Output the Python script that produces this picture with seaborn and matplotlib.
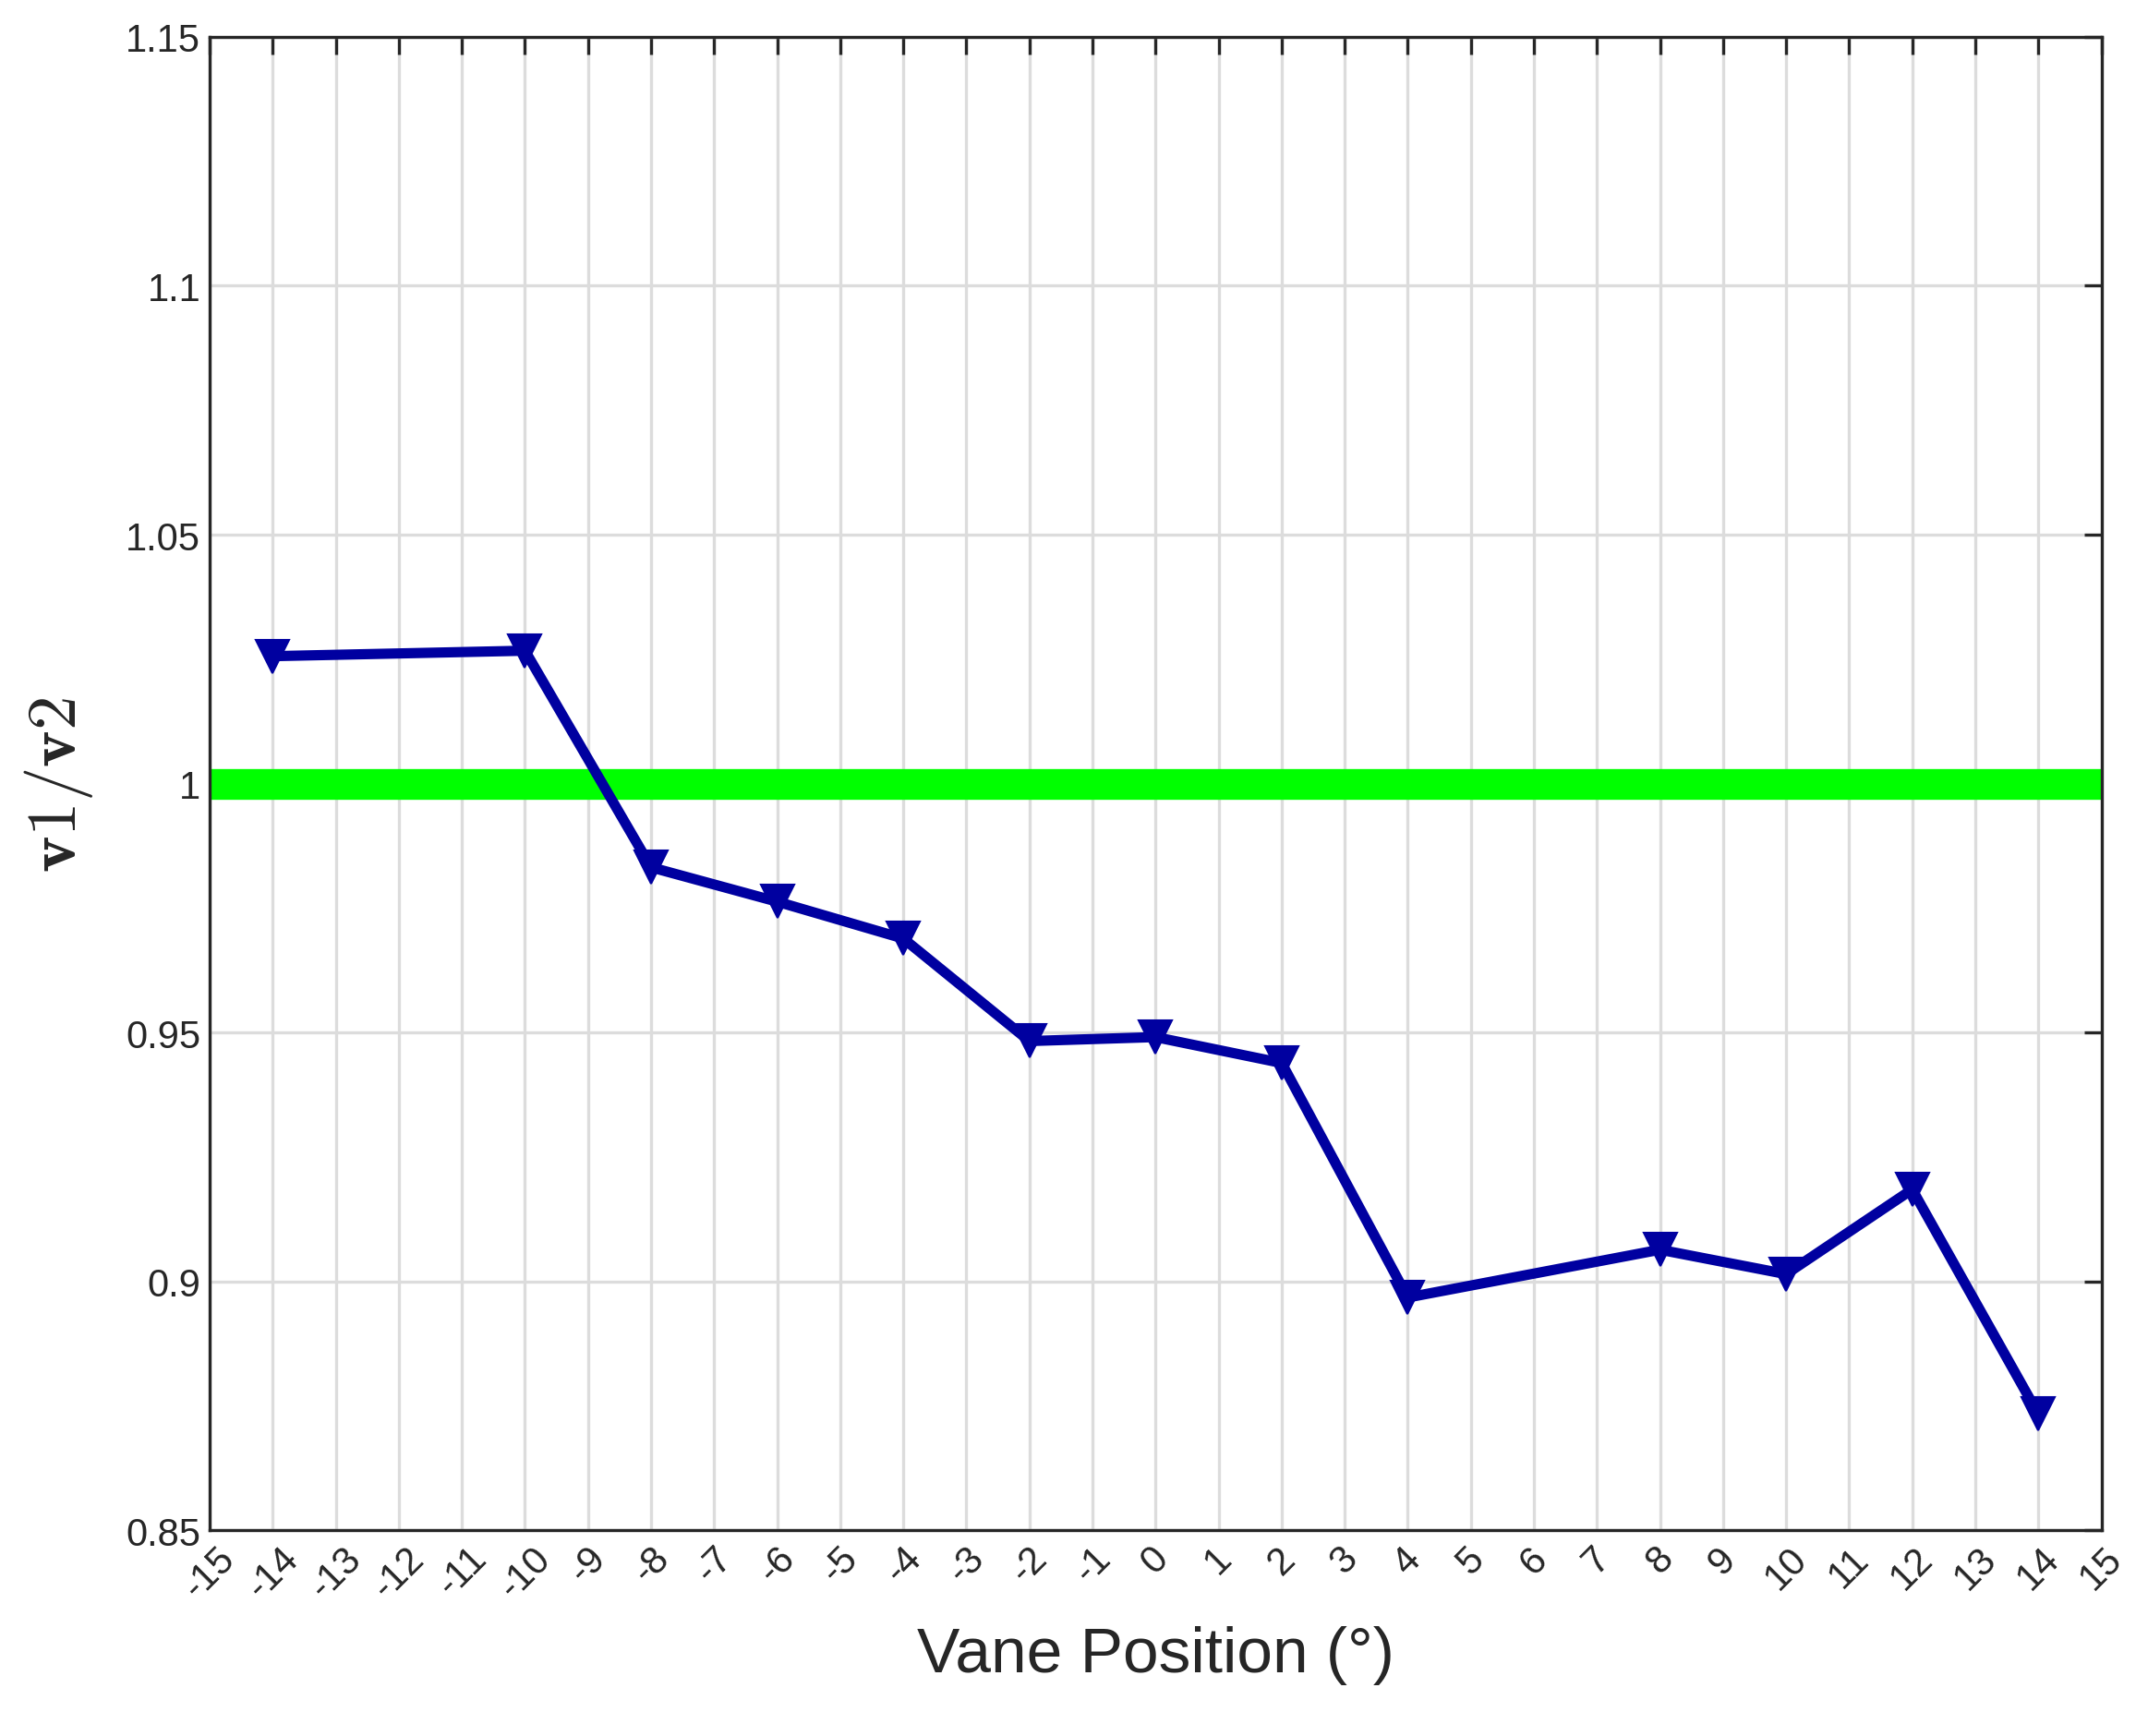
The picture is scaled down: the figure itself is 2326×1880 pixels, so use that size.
import matplotlib
matplotlib.use('Agg')
import matplotlib.pyplot as plt
import seaborn as sns
import pandas as pd

# vane position vs velocity ratio
vane_pos = [-14, -10, -8, -6, -4, -2, 0, 2, 4, 8, 10, 12, 14]
ratio = [1.0256, 1.0267, 0.9832, 0.9763, 0.9689, 0.9483, 0.9491, 0.9439,
         0.8968, 0.9064, 0.9015, 0.9185, 0.8734]
x_ticks = list(range(-15, 16))
y_ticks = [0.85, 0.9, 0.95, 1.0, 1.05, 1.1, 1.15]
y_tick_labels = ['0.85', '0.9', '0.95', '1', '1.05', '1.1', '1.15']

sns.set_style("white")
plt.rcParams['font.family'] = ['Liberation Sans', 'DejaVu Sans']
plt.rcParams['mathtext.fontset'] = 'cm'

df = pd.DataFrame({'pos': vane_pos, 'ratio': ratio})

fig = plt.figure(figsize=(11.63, 9.405), dpi=200)
ax = fig.add_axes([0.0976, 0.1183, 0.8807, 0.86])

ax.axhline(1.0, color='#00ff00', linewidth=12, zorder=2)
sns.lineplot(data=df, x='pos', y='ratio', ax=ax, color='#0000a0', linewidth=4,
             marker='v', markersize=13, markeredgecolor='#0000a0', zorder=3)

ax.set_xlim(-15, 15)
ax.set_ylim(0.85, 1.15)
ax.set_xticks(x_ticks)
ax.set_xticklabels([str(t) for t in x_ticks], rotation=45, ha='center', fontsize=15)
ax.set_yticks(y_ticks)
ax.set_yticklabels(y_tick_labels, fontsize=15)
ax.grid(True, color='#dcdcdc', linewidth=1.2)
ax.set_axisbelow(True)
ax.tick_params(direction='in', top=True, right=True, length=7, width=1.2, colors='#262626',
               labelcolor='#262626')
for s in ax.spines.values():
    s.set_color('#262626')
    s.set_linewidth(1.2)

ax.set_xlabel('Vane Position (°)', fontsize=25, color='#262626', labelpad=8)
ax.set_ylabel(r'$\mathbf{v1/v2}$', fontsize=27, color='#262626', labelpad=12)

fig.savefig('out.png', dpi=200)
